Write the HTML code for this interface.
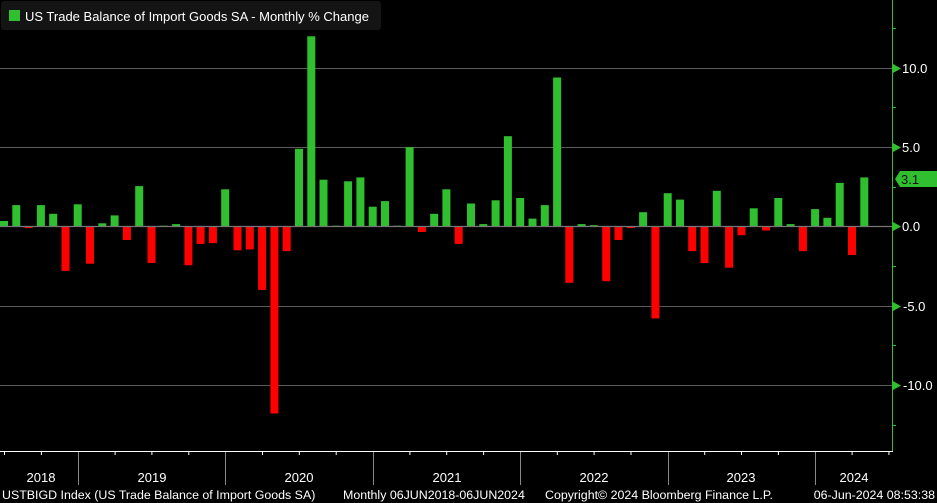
<!DOCTYPE html>
<html><head><meta charset="utf-8"><style>
html,body{margin:0;padding:0;background:#000;}
svg{display:block;font-family:"Liberation Sans",sans-serif;}
</style></head><body>
<svg width="937" height="503" viewBox="0 0 937 503" xmlns="http://www.w3.org/2000/svg">
<rect width="937" height="503" fill="#000"/>
<g stroke="#5a5a5a" stroke-width="1">
<line x1="0" y1="68.5" x2="892" y2="68.5"/>
<line x1="0" y1="147.5" x2="892" y2="147.5"/>
<line x1="0" y1="306.5" x2="892" y2="306.5"/>
<line x1="0" y1="385.5" x2="892" y2="385.5"/>
</g>
<g fill="#2fbf2f">
<rect x="0" y="221.0" width="8" height="5.5"/>
<rect x="12.3" y="205.1" width="8" height="21.4"/>
<rect x="36.9" y="205.1" width="8" height="21.4"/>
<rect x="49.2" y="213.8" width="8" height="12.7"/>
<rect x="73.7" y="204.3" width="8" height="22.2"/>
<rect x="98.3" y="223.3" width="8" height="3.2"/>
<rect x="110.6" y="215.4" width="8" height="11.1"/>
<rect x="135.2" y="186.1" width="8" height="40.4"/>
<rect x="159.8" y="225.7" width="8" height="0.8"/>
<rect x="172.1" y="224.1" width="8" height="2.4"/>
<rect x="221.2" y="189.3" width="8" height="37.2"/>
<rect x="295.0" y="148.8" width="8" height="77.7"/>
<rect x="307.3" y="36.3" width="8" height="190.2"/>
<rect x="319.5" y="179.7" width="8" height="46.8"/>
<rect x="331.8" y="225.7" width="8" height="0.8"/>
<rect x="344.1" y="181.3" width="8" height="45.2"/>
<rect x="356.4" y="177.4" width="8" height="49.1"/>
<rect x="368.7" y="206.7" width="8" height="19.8"/>
<rect x="381.0" y="201.1" width="8" height="25.4"/>
<rect x="393.3" y="225.7" width="8" height="0.8"/>
<rect x="405.6" y="147.2" width="8" height="79.3"/>
<rect x="430.2" y="213.8" width="8" height="12.7"/>
<rect x="442.4" y="189.3" width="8" height="37.2"/>
<rect x="467.0" y="203.5" width="8" height="23.0"/>
<rect x="479.3" y="224.1" width="8" height="2.4"/>
<rect x="491.6" y="200.3" width="8" height="26.2"/>
<rect x="503.9" y="136.2" width="8" height="90.3"/>
<rect x="516.2" y="198.0" width="8" height="28.5"/>
<rect x="528.5" y="218.6" width="8" height="7.9"/>
<rect x="540.8" y="205.1" width="8" height="21.4"/>
<rect x="553.1" y="77.5" width="8" height="149.0"/>
<rect x="577.6" y="224.1" width="8" height="2.4"/>
<rect x="589.9" y="225.2" width="8" height="1.3"/>
<rect x="639.1" y="212.2" width="8" height="14.3"/>
<rect x="663.7" y="193.2" width="8" height="33.3"/>
<rect x="676.0" y="199.6" width="8" height="26.9"/>
<rect x="712.8" y="190.8" width="8" height="35.7"/>
<rect x="749.7" y="208.3" width="8" height="18.2"/>
<rect x="774.3" y="198.0" width="8" height="28.5"/>
<rect x="786.6" y="224.1" width="8" height="2.4"/>
<rect x="811.1" y="209.1" width="8" height="17.4"/>
<rect x="823.4" y="217.8" width="8" height="8.7"/>
<rect x="835.7" y="182.9" width="8" height="43.6"/>
<rect x="860.3" y="177.4" width="8" height="49.1"/>
</g>
<g fill="#ff0000">
<rect x="24.6" y="226.5" width="8" height="1.6"/>
<rect x="61.5" y="226.5" width="8" height="44.4"/>
<rect x="86.0" y="226.5" width="8" height="37.2"/>
<rect x="122.9" y="226.5" width="8" height="13.5"/>
<rect x="147.5" y="226.5" width="8" height="36.5"/>
<rect x="184.4" y="226.5" width="8" height="38.8"/>
<rect x="196.6" y="226.5" width="8" height="17.4"/>
<rect x="208.9" y="226.5" width="8" height="16.6"/>
<rect x="233.5" y="226.5" width="8" height="23.8"/>
<rect x="245.8" y="226.5" width="8" height="23.0"/>
<rect x="258.1" y="226.5" width="8" height="63.4"/>
<rect x="270.4" y="226.5" width="8" height="187.0"/>
<rect x="282.7" y="226.5" width="8" height="24.6"/>
<rect x="417.9" y="226.5" width="8" height="5.5"/>
<rect x="454.7" y="226.5" width="8" height="17.4"/>
<rect x="565.3" y="226.5" width="8" height="56.3"/>
<rect x="602.2" y="226.5" width="8" height="54.7"/>
<rect x="614.5" y="226.5" width="8" height="13.5"/>
<rect x="626.8" y="226.5" width="8" height="1.6"/>
<rect x="651.4" y="226.5" width="8" height="91.9"/>
<rect x="688.2" y="226.5" width="8" height="24.6"/>
<rect x="700.5" y="226.5" width="8" height="36.5"/>
<rect x="725.1" y="226.5" width="8" height="41.2"/>
<rect x="737.4" y="226.5" width="8" height="8.7"/>
<rect x="762.0" y="226.5" width="8" height="4.0"/>
<rect x="798.9" y="226.5" width="8" height="24.6"/>
<rect x="848.0" y="226.5" width="8" height="28.5"/>
</g>
<line x1="0" y1="226.5" x2="892" y2="226.5" stroke="#777" stroke-width="1.2"/>
<line x1="892.5" y1="0" x2="892.5" y2="451" stroke="#2fbf2f" stroke-width="1"/>
<g fill="#2fbf2f">
<polygon points="893,64 901,68.5 893,73"/>
<polygon points="893,143 901,147.5 893,152"/>
<polygon points="893,222 901,226.5 893,231"/>
<polygon points="893,302 901,306.5 893,311"/>
<polygon points="893,381 901,385.5 893,390"/>
</g>
<g stroke="#2fbf2f" stroke-width="1">
<line x1="893" y1="28.5" x2="896" y2="28.5"/>
<line x1="893" y1="107.5" x2="896" y2="107.5"/>
<line x1="893" y1="187.5" x2="896" y2="187.5"/>
<line x1="893" y1="266.5" x2="896" y2="266.5"/>
<line x1="893" y1="345.5" x2="896" y2="345.5"/>
<line x1="893" y1="425.5" x2="896" y2="425.5"/>
</g>
<g fill="#fff" font-size="13">
<text x="902" y="73">10.0</text>
<text x="902" y="152">5.0</text>
<text x="902" y="231">0.0</text>
<text x="903" y="311">-5.0</text>
<text x="903" y="390">-10.0</text>
</g>
<polygon points="895,179 900,171 937,171 937,187 900,187" fill="#2fbf2f"/>
<text x="901" y="184" font-size="13" fill="#111">3.1</text>
<line x1="0" y1="451.5" x2="893" y2="451.5" stroke="#fff" stroke-width="1"/>
<g stroke="#fff" stroke-width="1">
<line x1="4.5" y1="451" x2="4.5" y2="455"/><line x1="41.4" y1="451" x2="41.4" y2="455"/>
<line x1="115.1" y1="451" x2="115.1" y2="455"/><line x1="151.9" y1="451" x2="151.9" y2="455"/>
<line x1="188.8" y1="451" x2="188.8" y2="455"/><line x1="262.5" y1="451" x2="262.5" y2="455"/>
<line x1="299.3" y1="451" x2="299.3" y2="455"/><line x1="336.2" y1="451" x2="336.2" y2="455"/>
<line x1="409.9" y1="451" x2="409.9" y2="455"/><line x1="446.7" y1="451" x2="446.7" y2="455"/>
<line x1="483.6" y1="451" x2="483.6" y2="455"/><line x1="557.3" y1="451" x2="557.3" y2="455"/>
<line x1="594.1" y1="451" x2="594.1" y2="455"/><line x1="631.0" y1="451" x2="631.0" y2="455"/>
<line x1="704.7" y1="451" x2="704.7" y2="455"/><line x1="741.5" y1="451" x2="741.5" y2="455"/>
<line x1="778.4" y1="451" x2="778.4" y2="455"/><line x1="852.1" y1="451" x2="852.1" y2="455"/>
<line x1="888.9" y1="451" x2="888.9" y2="455"/>
</g>
<g stroke="#888" stroke-width="1">
<line x1="78.5" y1="452" x2="78.5" y2="485"/>
<line x1="225.5" y1="452" x2="225.5" y2="485"/>
<line x1="373.5" y1="452" x2="373.5" y2="485"/>
<line x1="520.5" y1="452" x2="520.5" y2="485"/>
<line x1="668.5" y1="452" x2="668.5" y2="485"/>
<line x1="815.5" y1="452" x2="815.5" y2="485"/>
</g>
<g fill="#fff" font-size="13" text-anchor="middle">
<text x="41" y="482">2018</text>
<text x="152" y="482">2019</text>
<text x="299" y="482">2020</text>
<text x="447" y="482">2021</text>
<text x="594" y="482">2022</text>
<text x="741" y="482">2023</text>
<text x="854" y="482">2024</text>
</g>
<g fill="#fff" font-size="12.4">
<text x="2" y="499">USTBIGD Index (US Trade Balance of Import Goods SA)</text>
<text x="343" y="499">Monthly 06JUN2018-06JUN2024</text>
<text x="545" y="499">Copyright© 2024 Bloomberg Finance L.P.</text>
<text x="935" y="499" text-anchor="end">06-Jun-2024 08:53:38</text>
</g>
<rect x="1" y="1" width="380" height="29" rx="3" fill="#141414"/>
<rect x="9" y="10" width="11" height="11" fill="#2fbf2f"/>
<text x="25" y="21" font-size="13" fill="#fff">US Trade Balance of Import Goods SA - Monthly % Change</text>
</svg>
</body></html>
